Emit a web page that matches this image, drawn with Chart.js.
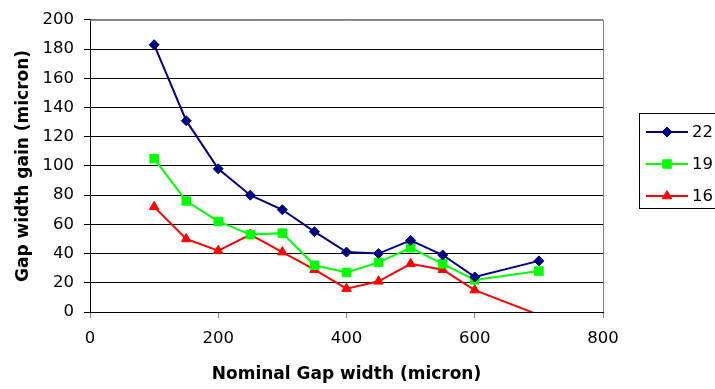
<!DOCTYPE html>
<html>
<head>
<meta charset="utf-8">
<script src="https://cdn.jsdelivr.net/npm/chart.js@4.4.0/dist/chart.umd.min.js"></script>
<style>
html, body { margin: 0; padding: 0; background: #fff; }
#wrap { width: 715px; height: 389px; position: relative; }
</style>
</head>
<body>
<div id="wrap"><canvas id="myChart"></canvas></div>
<script>
// nominal gap width (micron)
var gapWidths = [100, 150, 200, 250, 300, 350, 400, 450, 500, 550, 600, 700];
// gap width gain (micron)
var gain22 = [183, 131, 98, 80, 70, 55, 41, 40, 49, 39, 24, 35];
var gain19 = [105, 76, 62, 53, 54, 32, 27, 34, 44, 33, 22, 28];
var gain16 = [72, 50, 42, 53, 41, 29, 16, 21, 33, 29, 15, -2];
var seriesNames = ["22", "19", "16"];
var xTicks = [0, 200, 400, 600, 800];
var yTicks = [0, 20, 40, 60, 80, 100, 120, 140, 160, 180, 200];

var tickFont = { family: "'DejaVu Sans', sans-serif", size: 16.5 };
var titleFont = { family: "'DejaVu Sans', sans-serif", size: 17, weight: "bold" };

function puntos(valores) {
    return gapWidths.map(function (x, i) {
        return { x: x, y: valores[i] };
    });
}

// legend box on the right + grey frame of the plot area
var leyenda = {
    id: "leyenda",
    afterDraw: function (chart) {
        var ctx = chart.ctx;
        var a = chart.chartArea;
        ctx.save();

        ctx.strokeStyle = "#808080";
        ctx.lineWidth = 1;
        ctx.beginPath();
        ctx.moveTo(a.left, a.top + 0.5);
        ctx.lineTo(a.right + 0.5, a.top + 0.5);
        ctx.lineTo(a.right + 0.5, a.bottom);
        ctx.stroke();

        ctx.strokeStyle = "#000";
        ctx.strokeRect(639.5, 113.5, 90, 95);

        chart.data.datasets.forEach(function (ds, i) {
            var y = 132 + i * 32;
            ctx.strokeStyle = ds.borderColor;
            ctx.lineWidth = 2;
            ctx.beginPath();
            ctx.moveTo(646, y);
            ctx.lineTo(688, y);
            ctx.stroke();

            ctx.fillStyle = ds.borderColor;
            ctx.lineWidth = 1;
            Chart.helpers.drawPoint(ctx, {
                pointStyle: ds.pointStyle,
                radius: ds.legendRadius,
                rotation: 0,
                borderWidth: 1
            }, 667, y);

            ctx.fillStyle = "#000";
            ctx.font = "16.5px 'DejaVu Sans', sans-serif";
            ctx.textBaseline = "middle";
            ctx.textAlign = "left";
            ctx.fillText(ds.label, 692, y + 1);
        });
        ctx.restore();
    }
};

document.addEventListener("DOMContentLoaded", iniciar);

function iniciar() {
    var canvas = document.getElementById("myChart");
    if (!canvas) return;

    new Chart(canvas, {
        type: "line",
        data: {
            datasets: [
                {
                    label: seriesNames[0],
                    data: puntos(gain22),
                    borderColor: "#000080",
                    backgroundColor: "#000080",
                    pointBackgroundColor: "#000080",
                    pointBorderColor: "#000080",
                    pointStyle: "rectRot",
                    pointRadius: 5,
                    legendRadius: 5,
                    pointBorderWidth: 1,
                    borderWidth: 2,
                    tension: 0
                },
                {
                    label: seriesNames[1],
                    data: puntos(gain19),
                    borderColor: "#00ff00",
                    backgroundColor: "#00ff00",
                    pointBackgroundColor: "#00ff00",
                    pointBorderColor: "#00ff00",
                    pointStyle: "rect",
                    pointRadius: 6,
                    legendRadius: 6,
                    pointBorderWidth: 1,
                    borderWidth: 2,
                    tension: 0
                },
                {
                    label: seriesNames[2],
                    data: puntos(gain16),
                    borderColor: "#ff0000",
                    backgroundColor: "#ff0000",
                    pointBackgroundColor: "#ff0000",
                    pointBorderColor: "#ff0000",
                    pointStyle: "triangle",
                    pointRadius: gain16.map(function (v) { return v < 0 ? 0 : 5.5; }),
                    legendRadius: 5.5,
                    pointBorderWidth: 1,
                    borderWidth: 2,
                    tension: 0
                }
            ]
        },
        options: {
            responsive: true,
            maintainAspectRatio: false,
            animation: false,
            layout: { padding: { top: 13, right: 112, left: 0, bottom: 0 } },
            plugins: {
                legend: { display: false },
                tooltip: { enabled: false }
            },
            scales: {
                x: {
                    type: "linear",
                    min: 0,
                    max: 800,
                    afterBuildTicks: function (s) {
                        s.ticks = xTicks.map(function (v) { return { value: v }; });
                    },
                    afterFit: function (s) { s.height = 77; },
                    ticks: { font: tickFont, color: "#000", padding: 11, maxRotation: 0 },
                    grid: { drawOnChartArea: false, drawTicks: true, tickLength: 6, tickColor: "#808080" },
                    border: { color: "#000", width: 1 },
                    title: {
                        display: true,
                        text: "Nominal Gap width (micron)",
                        font: titleFont,
                        color: "#000",
                        padding: { top: 4, bottom: 4 }
                    }
                },
                y: {
                    min: 0,
                    max: 200,
                    afterBuildTicks: function (s) {
                        s.ticks = yTicks.map(function (v) { return { value: v }; });
                    },
                    afterFit: function (s) { s.width = 90; },
                    ticks: { font: tickFont, color: "#000", padding: 10 },
                    grid: {
                        color: function (c) { return c.tick && c.tick.value === 200 ? "#808080" : "#000"; },
                        tickLength: 6,
                        tickColor: "#000",
                        lineWidth: 1
                    },
                    border: { color: "#000", width: 1 },
                    title: {
                        display: true,
                        text: "Gap width gain (micron)",
                        font: titleFont,
                        color: "#000",
                        padding: { top: 13, bottom: 0 }
                    }
                }
            }
        },
        plugins: [leyenda]
    });
}
</script>
</body>
</html>
